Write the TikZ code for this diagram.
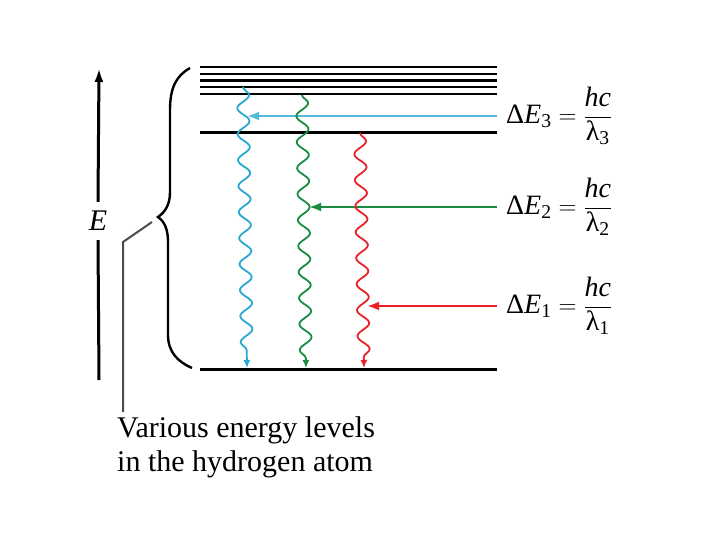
\documentclass[tikz,border=0pt]{standalone}
\usepackage{amsmath}
\usepackage{fontspec}
\setmainfont{Liberation Serif}
\usetikzlibrary{arrows.meta,positioning,decorations.pathmorphing}
\definecolor{photoncyan}{RGB}{40,168,210}
\definecolor{photongreen}{RGB}{25,140,65}
\definecolor{photonred}{RGB}{232,35,40}
\newcommand{\deltaeq}[1]{$\text{Δ}\textit{E}_{\text{#1}} = \dfrac{\textit{hc}}{\text{λ}_{\text{#1}}}$}

\begin{document}
\begin{tikzpicture}[x=1pt,y=-1pt,>=Latex,
level/.style={line width=3pt,draw=black},
upper/.style={level,line width=2.2pt},
photon/.style={line width=1.8pt,decorate,decoration={snake,segment length=26pt,amplitude=6pt,post length=8pt},-{Latex[length=8pt,width=7pt]}},
emit/.style={line width=2.6pt,{Latex[length=12pt,width=9pt]}-},
eqn/.style={anchor=west,inner xsep=9pt,inner ysep=0pt,font=\fontsize{28}{32}\selectfont},
brace/.style={line width=2.4pt,draw=black},
pointer/.style={line width=2pt,draw=black!70}]
\useasboundingbox (0,0) rectangle (720,540);
% energy levels
\foreach \y in {67,74,80.5,87,94} \draw[upper] (200,\y) -- (497,\y);
\draw[level] (200,133) coordinate (n2w) -- (497,133) coordinate (n2e);
\draw[level] (200,369) coordinate (n1w) -- (497,369) coordinate (n1e);
% labels
\node[eqn] (lab3) at (497,116) {\deltaeq{3}};
\node[eqn] (lab2) at (497,207) {\deltaeq{2}};
\node[eqn] (lab1) at (497,306) {\deltaeq{1}};
% photons
\coordinate (c3top) at (243,87); \coordinate (c3bot) at (247,368);
\coordinate (c2top) at (302,95); \coordinate (c2bot) at (306,368);
\coordinate (c1top) at (360,133); \coordinate (c1bot) at (364,368);
\coordinate (c3) at (247,116);
\coordinate (c2) at (309,207);
\coordinate (c1) at (367,306);
\draw[emit,photoncyan!80] (c3) -- (lab3.west);
\draw[emit,photongreen] (c2) -- (lab2.west);
\draw[emit,photonred] (c1) -- (lab1.west);
\draw[photon,photoncyan] (c3top) -- (c3bot);
\draw[photon,photongreen] (c2top) -- (c2bot);
\draw[photon,photonred] (c1top) -- (c1bot);
% energy axis
\node[font=\fontsize{30}{34}\selectfont\itshape,inner sep=0pt,minimum height=38pt] (elab) at (98,221) {E};
\coordinate (etop) at (99,68); \coordinate (ebot) at (99,380);
\draw[line width=3pt,-{Latex[length=14pt,width=9pt]}] (elab.north) -- (etop);
\draw[line width=3pt] (elab.south) -- (ebot);
% brace
\coordinate (btip) at (158,217);
\draw[brace] (190,68) .. controls (176,76) and (170,88) .. (170,110) -- (170,192)
  .. controls (170,205) and (165,212) .. (btip)
  .. controls (165,222) and (168,230) .. (168,242) -- (168,335)
  .. controls (168,352) and (178,362) .. (192,368);
% note
\node[anchor=north west,align=left,inner sep=0pt,font=\fontsize{30}{34}\selectfont] (note) at (117,416) {Various energy levels\\in the hydrogen atom};
\coordinate (bend) at (123,242);
\coordinate (tipend) at (152,222);
\draw[pointer] (bend |- note.north) ++(0,-4) -- (bend) -- (tipend);
\end{tikzpicture}
\end{document}
